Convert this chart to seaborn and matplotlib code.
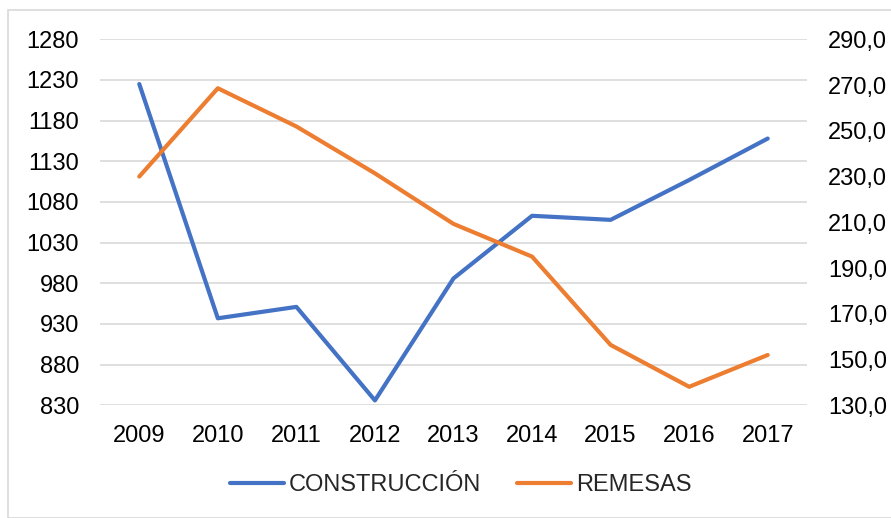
import matplotlib
matplotlib.use("Agg")
import matplotlib.pyplot as plt
import matplotlib.ticker as mticker
from matplotlib.patches import Rectangle
import seaborn as sns
import pandas as pd

years = [2009, 2010, 2011, 2012, 2013, 2014, 2015, 2016, 2017]
construccion = [1225, 937, 951, 836, 986, 1063, 1058, 1107, 1158]
remesas = [230.0, 268.6, 251.9, 231.4, 209.3, 195.0, 156.4, 138.1, 152.0]
left_ticks = [830, 880, 930, 980, 1030, 1080, 1130, 1180, 1230, 1280]
right_ticks = [130, 150, 170, 190, 210, 230, 250, 270, 290]

sns.set_style("white")
plt.rcParams['font.family'] = ['Liberation Sans', 'DejaVu Sans']

BLUE = "#4472C4"
ORANGE = "#ED7D31"
GRID = "#D9D9D9"
FS = 17

df = pd.DataFrame({"year": years, "CONSTRUCCIÓN": construccion, "REMESAS": remesas})

fig = plt.figure(figsize=(8.91, 5.18), dpi=100)
ax = fig.add_axes([100/891, 1-405.3/518, 707/891, 366/518])
ax2 = ax.twinx()

sns.lineplot(data=df, x="year", y="CONSTRUCCIÓN", ax=ax, color=BLUE, linewidth=3,
             label="CONSTRUCCIÓN", legend=False, solid_capstyle="round")
sns.lineplot(data=df, x="year", y="REMESAS", ax=ax2, color=ORANGE, linewidth=3,
             label="REMESAS", legend=False, solid_capstyle="round")

ax.set_xlim(years[0]-0.5, years[-1]+0.5)
ax.set_ylim(left_ticks[0], left_ticks[-1])
ax2.set_ylim(right_ticks[0], right_ticks[-1])
ax.set_xticks(years)
ax.set_xticklabels([str(y) for y in years])
ax.set_yticks(left_ticks)
ax2.set_yticks(right_ticks)
ax2.yaxis.set_major_formatter(mticker.FuncFormatter(lambda v, p: f"{v:.1f}".replace('.', ',')))

ax.grid(axis='y', color=GRID, linewidth=1.2)
ax.set_axisbelow(True)
ax.set_xlabel("")
ax.set_ylabel("")
ax2.set_ylabel("")
for a in (ax, ax2):
    for s in a.spines.values():
        s.set_visible(False)
ax.tick_params(axis='y', length=0, pad=15, labelsize=FS, colors="#000000")
ax.tick_params(axis='x', length=0, pad=14, labelsize=FS, colors="#000000")
ax2.tick_params(axis='y', length=0, pad=15, labelsize=FS, colors="#000000")

# chart border
fig.patches.append(Rectangle((8/891, 0), 1, 1-10/518, transform=fig.transFigure,
                             fill=False, edgecolor="#D9D9D9", linewidth=1.2))

h1, l1 = ax.get_legend_handles_labels()
h2, l2 = ax2.get_legend_handles_labels()
fig.legend(h1+h2, l1+l2, loc="center", bbox_to_anchor=(0.517, 1-485/518), ncol=2,
           frameon=False, fontsize=FS, handlelength=2.3, handletextpad=0.2,
           columnspacing=1.5)

fig.savefig("out.png", dpi=100)
